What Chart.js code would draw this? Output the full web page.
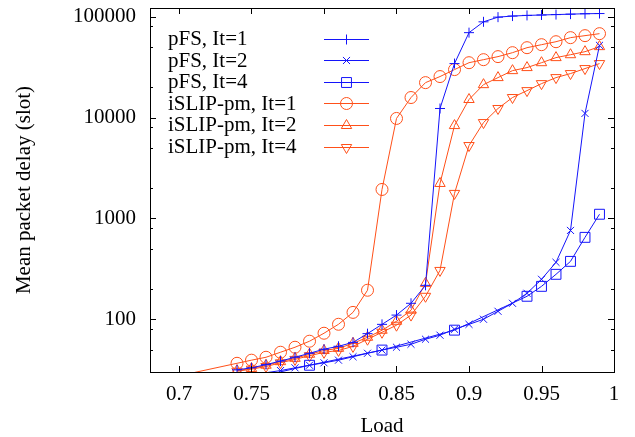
<!DOCTYPE html>
<html>
<head>
<meta charset="utf-8">
<script src="https://cdn.jsdelivr.net/npm/chart.js@4.4.1/dist/chart.umd.min.js"></script>
<style>
  html, body { margin: 0; padding: 0; background: #ffffff; }
  #wrap { width: 635px; height: 437px; }
</style>
</head>
<body>
<div id="wrap"><canvas id="c" width="635" height="437"></canvas></div>
<script>
// ---- data ----
const LOAD = [0.74, 0.75, 0.76, 0.77, 0.78, 0.79, 0.80, 0.81, 0.82, 0.83, 0.84, 0.85, 0.86,
              0.87, 0.88, 0.89, 0.90, 0.91, 0.92, 0.93, 0.94, 0.95, 0.96, 0.97, 0.98, 0.99];
const PFS_IT1 = [31.5, 33, 35.5, 38.5, 42, 46, 50.5, 54, 59, 72, 89, 110, 144, 217,
                 12300, 34300, 69500, 89000, 99000, 101500, 103000, 104000, 105000, 106000, 107000, 107500];
const PFS_IT2 = [26.5, 28, 29.5, 31, 33, 35, 37, 39.3, 42.5, 46, 49.5, 52.8, 56.5, 63.4,
                 69.5, 79.6, 89, 100, 120, 144, 181, 249, 367, 760, 11000, 52000];
const PFS_IT4_LOAD = [0.74, 0.79, 0.84, 0.89, 0.94, 0.95, 0.96, 0.97, 0.98, 0.99];
const PFS_IT4 = [24, 35, 49.5, 78, 169, 212, 279, 375, 649, 1100];
const ISLIP_IT1_LOAD = [0.70, 0.74, 0.75, 0.76, 0.77, 0.78, 0.79, 0.80, 0.81, 0.82, 0.83, 0.84, 0.85,
                        0.86, 0.87, 0.88, 0.89, 0.90, 0.91, 0.92, 0.93, 0.94, 0.95, 0.96, 0.97, 0.98, 0.99];
const ISLIP_IT1 = [27.5, 36.6, 39.3, 42, 47.1, 52.8, 60.6, 72.7, 89.2, 117, 194, 1937, 9800,
                   15800, 22200, 25500, 29900, 35000, 37500, 40200, 44000, 49300, 52800, 56500, 62000, 64900, 67900];
const ISLIP_IT2 = [31, 32.5, 35, 38, 41, 45, 49, 51.5, 57.7, 66.3, 77.8, 95.5, 123, 227,
                   2220, 8330, 15100, 21200, 24900, 29200, 31300, 35000, 39300, 42000, 45000, 50500];
const ISLIP_IT4 = [30.5, 32, 34, 37, 40, 43.5, 47, 49.1, 53.8, 63.4, 74.3, 87.3, 110, 169,
                   305, 1770, 5280, 8920, 12300, 15800, 18500, 21700, 24900, 27300, 30600, 34300];

const SERIES_NAMES = ['pFS, It=1', 'pFS, It=2', 'pFS, It=4',
                      'iSLIP-pm, It=1', 'iSLIP-pm, It=2', 'iSLIP-pm, It=4'];
const X_TICKS = [0.7, 0.75, 0.8, 0.85, 0.9, 0.95, 1];
const Y_MAJOR = [100, 1000, 10000, 100000];
const Y_MINOR = [50, 80, 200, 500, 800, 2000, 5000, 8000, 20000, 50000, 80000];
const Y_MIN = 30, Y_MAX = 122000, X_MIN = 0.68, X_MAX = 1;

// ---- styling ----
const BLUE = 'rgb(20,20,250)';
const ORANGE = 'rgb(255,80,25)';
const FONT = "'Liberation Serif', 'Times New Roman', Times, serif";

function pts(xs, ys) { return xs.map((x, i) => ({ x: x, y: ys[i] })); }

function ds(label, data, color, style, radius, rotation) {
  return {
    label: label, data: data,
    borderColor: color, backgroundColor: 'rgba(0,0,0,0)',
    borderWidth: 1, tension: 0, fill: false,
    pointStyle: style,
    pointRadius: c => (c.raw && c.raw.y < Y_MIN ? 0 : radius),
    pointHoverRadius: radius,
    keyRadius: radius,
    pointRotation: rotation || 0,
    pointBorderColor: color, pointBackgroundColor: 'rgba(0,0,0,0)', pointBorderWidth: 1
  };
}

Chart.defaults.font.family = FONT;
Chart.defaults.font.size = 21;
Chart.defaults.color = '#000';

const frameAndTicks = {
  id: 'frameAndTicks',
  afterDatasetsDraw(chart) {
    const { ctx, chartArea: a, scales } = chart;
    ctx.save();
    ctx.strokeStyle = '#000';
    ctx.lineWidth = 1;
    ctx.beginPath();
    const ys = scales.y;
    Y_MAJOR.concat(Y_MINOR).forEach(v => {
      const len = Y_MAJOR.includes(v) ? 6 : 3;
      const p = Math.round(ys.getPixelForValue(v)) + 0.5;
      ctx.moveTo(a.left, p); ctx.lineTo(a.left + len, p);
      ctx.moveTo(a.right, p); ctx.lineTo(a.right - len, p);
    });
    const xs = scales.x;
    X_TICKS.forEach(v => {
      const p = Math.round(xs.getPixelForValue(v)) + 0.5;
      ctx.moveTo(p, a.bottom); ctx.lineTo(p, a.bottom - 6);
      ctx.moveTo(p, a.top); ctx.lineTo(p, a.top + 6);
    });
    ctx.stroke();
    ctx.strokeRect(Math.round(a.left) + 0.5, Math.round(a.top) + 0.5,
                   Math.round(a.right - a.left), Math.round(a.bottom - a.top));
    ctx.restore();
  }
};

const keyPlugin = {
  id: 'keyPlugin',
  afterDraw(chart) {
    const ctx = chart.ctx;
    ctx.save();
    chart.data.datasets.forEach((d, i) => {
      const y = 38.5 + i * 21.6;
      ctx.font = '21px ' + FONT;
      ctx.fillStyle = '#000';
      ctx.textAlign = 'left';
      ctx.textBaseline = 'middle';
      ctx.fillText(d.label, 168, y + 1);
      ctx.strokeStyle = d.borderColor;
      ctx.lineWidth = 1;
      ctx.beginPath();
      ctx.moveTo(324, Math.round(y) + 0.5);
      ctx.lineTo(369, Math.round(y) + 0.5);
      ctx.stroke();
      ctx.fillStyle = 'rgba(0,0,0,0)';
      Chart.helpers.drawPoint(ctx, {
        pointStyle: d.pointStyle, rotation: d.pointRotation,
        radius: d.keyRadius, borderWidth: 1
      }, 346.5, Math.round(y) + 0.5);
    });
    ctx.restore();
  }
};

new Chart(document.getElementById('c'), {
  type: 'line',
  data: {
    datasets: [
      ds(SERIES_NAMES[0], pts(LOAD, PFS_IT1), BLUE, 'cross', 5),
      ds(SERIES_NAMES[1], pts(LOAD, PFS_IT2), BLUE, 'crossRot', 5),
      ds(SERIES_NAMES[2], pts(PFS_IT4_LOAD, PFS_IT4), BLUE, 'rect', 7),
      ds(SERIES_NAMES[3], pts(ISLIP_IT1_LOAD, ISLIP_IT1), ORANGE, 'circle', 6),
      ds(SERIES_NAMES[4], pts(LOAD, ISLIP_IT2), ORANGE, 'triangle', 6),
      ds(SERIES_NAMES[5], pts(LOAD, ISLIP_IT4), ORANGE, 'triangle', 6, 180)
    ]
  },
  options: {
    responsive: false,
    devicePixelRatio: 1,
    animation: false,
    events: [],
    layout: { padding: { left: 0, right: 21, top: 7, bottom: 0 } },
    plugins: { legend: { display: false }, tooltip: { enabled: false } },
    scales: {
      x: {
        type: 'linear', min: X_MIN, max: X_MAX,
        grid: { display: false, drawTicks: false },
        border: { display: false },
        afterBuildTicks: s => { s.ticks = X_TICKS.map(v => ({ value: v })); },
        afterFit: s => { s.height = 65; s.paddingLeft = 0; s.paddingRight = 0; },
        ticks: { autoSkip: false, maxRotation: 0, padding: 10, callback: v => String(v) },
        title: { display: true, text: 'Load', font: { size: 21, lineHeight: 1.0 }, padding: { top: 0, bottom: 0 } }
      },
      y: {
        type: 'logarithmic', min: Y_MIN, max: Y_MAX,
        grid: { display: false, drawTicks: false },
        border: { display: false },
        afterBuildTicks: s => {
          s.ticks = Y_MINOR.concat(Y_MAJOR).sort((p, q) => p - q).map(v => ({ value: v, major: Y_MAJOR.includes(v) }));
        },
        afterFit: s => { s.width = 150; s.paddingTop = 0; s.paddingBottom = 0; },
        ticks: { autoSkip: false, padding: 14, callback: v => (Y_MAJOR.includes(v) ? String(v) : '') },
        title: { display: true, text: 'Mean packet delay (slot)', font: { size: 21 }, padding: { top: 12, bottom: 0 } }
      }
    }
  },
  plugins: [frameAndTicks, keyPlugin]
});
</script>
</body>
</html>
